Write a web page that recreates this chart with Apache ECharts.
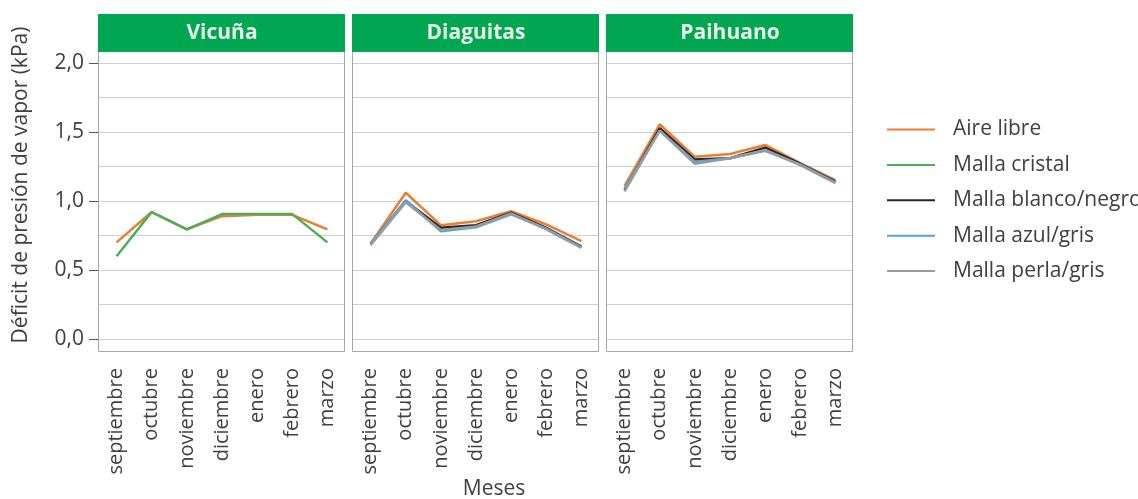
<!DOCTYPE html>
<html style="height: 100%">
  <head>
    <meta charset="UTF-8" />
    <title>ECharts</title>
    <script src="https://cdn.jsdelivr.net/npm/echarts/dist/echarts.min.js"></script>
  </head>
  <body style="height: 100%; margin: 0; background: #fff">
    <div id="main" style="width: 1138px; height: 499px"></div>
    <script>
      var meses = ['septiembre', 'octubre', 'noviembre', 'diciembre', 'enero', 'febrero', 'marzo'];
      var sitios = ['Vicuña', 'Diaguitas', 'Paihuano'];
      var tratamientos = ['Aire libre', 'Malla cristal', 'Malla blanco/negro', 'Malla azul/gris', 'Malla perla/gris'];
      var colores = ['#ed7d31', '#4aae5a', '#262626', '#4da3dd', '#9a9a9a'];

      // Vicuña: solo aire libre y malla cristal
      var vicunaAireLibre = [0.70, 0.92, 0.795, 0.89, 0.90, 0.90, 0.795];
      var vicunaMallaCristal = [0.60, 0.92, 0.795, 0.905, 0.905, 0.905, 0.70];

      var diaguitasAireLibre = [0.69, 1.06, 0.825, 0.853, 0.926, 0.83, 0.71];
      var diaguitasBlancoNegro = [0.69, 1.00, 0.807, 0.824, 0.915, 0.805, 0.67];
      var diaguitasAzulGris = [0.69, 1.005, 0.78, 0.81, 0.904, 0.80, 0.665];
      var diaguitasPerlaGris = [0.68, 0.99, 0.79, 0.815, 0.91, 0.795, 0.66];

      var paihuanoAireLibre = [1.11, 1.556, 1.32, 1.34, 1.406, 1.275, 1.151];
      var paihuanoBlancoNegro = [1.08, 1.527, 1.30, 1.31, 1.386, 1.27, 1.14];
      var paihuanoAzulGris = [1.09, 1.51, 1.285, 1.31, 1.364, 1.265, 1.135];
      var paihuanoPerlaGris = [1.07, 1.51, 1.27, 1.31, 1.37, 1.26, 1.13];

      var datosPorSitio = [
        [vicunaAireLibre, vicunaMallaCristal, null, null, null],
        [diaguitasAireLibre, null, diaguitasBlancoNegro, diaguitasAzulGris, diaguitasPerlaGris],
        [paihuanoAireLibre, null, paihuanoBlancoNegro, paihuanoAzulGris, paihuanoPerlaGris]
      ];

      var FONT = 'Open Sans';
      var TEXT = '#404040';
      var GRID_COLOR = '#cfcfcf';
      var panelLeft = [99, 353, 607];
      var panelWidth = 246;

      var chartDom = document.getElementById('main');
      var myChart = echarts.init(chartDom);
      var option;

      var grids = [], xAxes = [], yAxes = [], series = [], graphics = [];

      sitios.forEach(function (sitio, i) {
        grids.push({ left: panelLeft[i], width: panelWidth, top: 63, height: 276 });
        xAxes.push({
          type: 'category',
          gridIndex: i,
          data: meses,
          offset: 12,
          axisLine: { show: false },
          axisTick: { alignWithLabel: true, length: 8, lineStyle: { color: '#595959' } },
          axisLabel: { rotate: 90, margin: 17, fontSize: 20, fontFamily: FONT, color: TEXT }
        });
        yAxes.push({
          type: 'value',
          gridIndex: i,
          min: 0,
          max: 2,
          interval: 0.5,
          axisLine: { show: false },
          axisTick: { show: i === 0, length: 10, lineStyle: { color: '#595959' } },
          axisLabel: {
            show: i === 0,
            margin: 15,
            fontSize: 21,
            fontFamily: FONT,
            color: TEXT,
            formatter: function (v) { return v.toFixed(1).replace('.', ','); }
          },
          splitLine: { lineStyle: { color: GRID_COLOR, width: 1 } },
          minorTick: { show: false, splitNumber: 2 },
          minorSplitLine: { show: true, lineStyle: { color: GRID_COLOR, width: 1 } }
        });

        datosPorSitio[i].forEach(function (valores, k) {
          if (!valores) return;
          series.push({
            type: 'line',
            name: tratamientos[k],
            xAxisIndex: i,
            yAxisIndex: i,
            data: valores,
            symbol: 'none',
            lineStyle: { width: 2.5, color: colores[k] },
            itemStyle: { color: colores[k] },
            z: 3
          });
        });

        // marco del panel
        graphics.push({
          type: 'rect',
          shape: { x: panelLeft[i] - 0.5, y: 51.5, width: panelWidth, height: 300 },
          style: { fill: 'none', stroke: '#a6a6a6', lineWidth: 1 },
          z: 1
        });
        // encabezado verde
        graphics.push({
          type: 'rect',
          shape: { x: panelLeft[i] - 1, y: 14, width: panelWidth + 1, height: 38 },
          style: { fill: '#00a651' },
          z: 2
        });
        graphics.push({
          type: 'text',
          x: panelLeft[i] + panelWidth / 2,
          y: 33,
          style: {
            text: sitio,
            fill: '#e8f4e8',
            font: 'bold 21px "Open Sans"',
            textAlign: 'center',
            textVerticalAlign: 'middle'
          },
          z: 3
        });
      });

      graphics.push({
        type: 'text',
        x: 21,
        y: 185,
        rotation: Math.PI / 2,
        style: {
          text: 'Déficit de presión de vapor (kPa)',
          fill: TEXT,
          font: '21px "Open Sans"',
          textAlign: 'center',
          textVerticalAlign: 'middle'
        }
      });
      graphics.push({
        type: 'text',
        x: 494,
        y: 489,
        style: {
          text: 'Meses',
          fill: TEXT,
          font: '21px "Open Sans"',
          textAlign: 'center',
          textVerticalAlign: 'middle'
        }
      });

      option = {
        animation: false,
        backgroundColor: '#fff',
        legend: {
          data: tratamientos,
          orient: 'vertical',
          left: 882,
          top: 114,
          itemWidth: 48,
          itemHeight: 14,
          itemGap: 14.4,
          icon: 'path://M0,6 L48,6 L48,8 L0,8 Z',
          textStyle: { fontSize: 21, fontFamily: FONT, color: TEXT, padding: [0, 0, 0, 13] }
        },
        grid: grids,
        xAxis: xAxes,
        yAxis: yAxes,
        series: series,
        graphic: graphics
      };

      option && myChart.setOption(option);
    </script>
  </body>
</html>
